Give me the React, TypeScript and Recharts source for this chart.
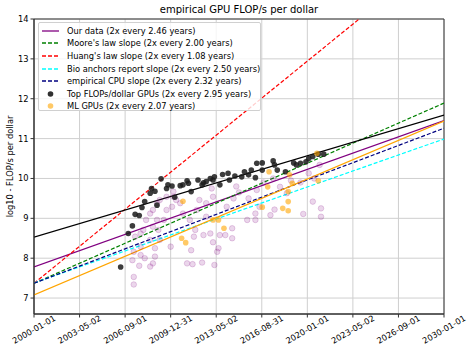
import React from 'react';
import {
  ComposedChart,
  Line,
  Scatter,
  XAxis,
  YAxis,
  CartesianGrid,
  ReferenceArea,
} from 'recharts';

// x ticks: 2000-01-01 .. 2030-01-01 split in 9 equal steps
const tickYears = [2000, 2003.333, 2006.667, 2010, 2013.333, 2016.667, 2020, 2023.333, 2026.667, 2030];
const tickLabels = [
  '2000-01-01', '2003-05-02', '2006-09-01', '2009-12-31', '2013-05-02',
  '2016-08-31', '2020-01-01', '2023-05-02', '2026-09-01', '2030-01-01',
];
const yTicks = [7, 8, 9, 10, 11, 12, 13, 14];

// all GPUs (faint purple)
const allGpuYears = [
  2007.3, 2007.3, 2007.2, 2007.7, 2007.3, 2007.8, 2007.4, 2008.0, 2008.2, 2008.5,
  2008.7, 2009.0, 2008.85, 2008.85, 2008.5, 2008.7, 2008.1, 2009.2, 2009.1, 2010.0,
  2010.1, 2010.2, 2010.4, 2010.7, 2010.2, 2011.2, 2011.6, 2011.5, 2011.7, 2012.3,
  2012.4, 2012.6, 2012.9, 2013.1, 2013.5, 2013.4, 2013.2, 2013.6, 2014.0, 2014.5,
  2014.5, 2012.6, 2013.1, 2014.1, 2014.6, 2015.7, 2016.2, 2016.2, 2016.3, 2017.3,
  2017.6, 2018.0, 2017.5, 2019.7, 2020.1, 2020.4, 2020.9, 2021.0, 2021.0, 2011.8,
  2011.4, 2010.9, 2011.9, 2012.1, 2015.6, 2016.5, 2018.5, 2007.8, 2008.5, 2007.8,
  2008.7, 2009.5, 2009.7, 2009.0, 2009.2, 2009.7, 2013.0, 2014.8, 2015.0, 2016.8,
  2019.5, 2020.5, 2018.8,
];
const allGpuValues = [
  7.53, 7.34, 7.95, 7.81, 8.16, 8.08, 8.54, 8.71, 8.96, 9.12,
  9.21, 8.96, 8.25, 8.04, 7.79, 7.87, 8.0, 8.46, 8.71, 8.29,
  9.29, 9.54, 9.46, 9.38, 9.67, 7.87, 7.85, 8.2, 8.54, 7.89,
  8.58, 9.04, 8.62, 8.4, 8.25, 8.16, 7.83, 8.58, 8.58, 8.5,
  8.75, 9.38, 9.54, 9.29, 9.5, 9.5, 9.12, 8.96, 9.71, 9.08,
  9.22, 9.79, 10.0, 9.11, 10.13, 9.42, 10.34, 9.25, 9.04, 8.71,
  8.96, 9.12, 9.21, 9.46, 8.96, 9.29, 9.63, 8.62, 8.46, 8.29,
  8.79, 8.96, 9.21, 9.38, 9.46, 9.54, 9.75, 9.8, 9.65, 9.9,
  9.9, 10.0, 9.95,
];

// top FLOPs/dollar GPUs (black)
const topYears = [
  2006.34, 2006.9, 2007.2, 2007.4, 2007.7, 2007.9, 2008.1, 2008.5, 2008.6, 2008.85,
  2009.0, 2009.3, 2009.7, 2009.8, 2010.1, 2010.3, 2010.7, 2010.9, 2011.2, 2011.3,
  2011.5, 2012.0, 2012.3, 2012.4, 2012.6, 2012.9, 2013.1, 2013.2, 2013.6, 2013.8,
  2014.2, 2014.3, 2014.7, 2015.2, 2015.4, 2015.7, 2015.9, 2016.2, 2016.3, 2016.7,
  2016.7, 2017.5, 2017.6, 2017.8, 2018.4, 2019.0, 2019.2, 2019.5, 2019.9, 2020.1,
  2020.4, 2020.8, 2021.2,
];
const topValues = [
  7.78, 8.62, 8.81, 9.1, 9.07, 9.27, 9.42, 9.63, 9.75, 9.68,
  9.33, 9.99, 9.75, 9.84, 9.81, 9.53, 9.82, 9.84, 9.94, 9.88,
  9.67, 9.96, 9.84, 9.89, 9.92, 10.0, 9.96, 10.04, 9.84, 10.1,
  10.13, 9.96, 10.06, 10.04, 10.17, 10.09, 10.21, 10.02, 10.38, 10.39,
  10.21, 10.44, 10.34, 10.21, 10.17, 10.39, 10.34, 10.38, 10.42, 10.5,
  10.55, 10.61, 10.61,
];

// ML GPUs (orange)
const mlYears = [
  2010.9, 2010.8, 2011.1, 2013.1, 2013.5, 2013.9, 2016.7, 2017.1, 2017.2, 2018.6,
  2018.2, 2018.6, 2018.9, 2018.7, 2020.8, 2020.7, 2018.6,
];
const mlValues = [
  9.43, 8.5, 8.39, 8.96, 8.96, 8.75, 9.28, 9.79, 10.17, 9.42,
  9.25, 9.19, 9.88, 10.09, 9.94, 10.63, 9.67,
];

// trend lines: value at 2000-01-01 and at 2030-01-01
const trendNames = [
  'Our data (2x every 2.46 years)',
  "Moore's law slope (2x every 2.00 years)",
  "Huang's law slope (2x every 1.08 years)",
  'Bio anchors report slope (2x every 2.50 years)',
  'empirical CPU slope (2x every 2.32 years)',
];
const trendStart = [7.78, 7.37, 7.37, 7.38, 7.37];
const trendEnd = [11.45, 11.89, 15.73, 10.99, 11.26];
const trendColors = ['#800080', '#008000', '#ff0000', '#00ffff', '#000080'];
const trendDashed = [false, true, true, true, true];

const topFitStart = 8.53;
const topFitEnd = 11.59;
const mlFitStart = 7.08;
const mlFitEnd = 11.44;

const scatterNames = [
  'Top FLOPs/dollar GPUs (2x every 2.95 years)',
  'ML GPUs (2x every 2.07 years)',
];

const FONT = '"DejaVu Sans", sans-serif';

const zip = (xs: number[], ys: number[]) => xs.map((x, i) => ({ x, y: ys[i] }));
const allGpuData = zip(allGpuYears, allGpuValues);
const topData = zip(topYears, topValues);
const mlData = zip(mlYears, mlValues);
const ends = (a: number, b: number) => [
  { x: 2000, y: a },
  { x: 2030, y: b },
];

const dot = (fill: string, opacity: number, edge = 0) => (props: any) => (
  <circle
    cx={props.cx}
    cy={props.cy}
    r={2.8}
    fill={fill}
    fillOpacity={opacity}
    stroke={edge ? fill : 'none'}
    strokeOpacity={edge}
    strokeWidth={0.8}
  />
);

const XTick = (props: any) => {
  const { x, y, index } = props;
  return (
    <g transform={`translate(${x},${y})`}>
      <text
        x={0}
        y={0}
        transform="translate(0,10) rotate(-30)"
        textAnchor="middle"
        dy="0.35em"
        fontSize={8.3}
        fontFamily={FONT}
        fill="#000"
      >
        {tickLabels[index]}
      </text>
    </g>
  );
};

const LegendBox = () => {
  const rows = [
    ...trendNames.map((n, i) => ({ name: n, kind: 'line', color: trendColors[i], dashed: trendDashed[i] })),
    { name: scatterNames[0], kind: 'dot', color: '#1a1a1a', opacity: 0.9 },
    { name: scatterNames[1], kind: 'dot', color: '#ffa500', opacity: 0.6 },
  ];
  return (
    <div
      style={{
        position: 'absolute',
        left: 38,
        top: 22,
        width: 223,
        height: 89,
        border: '1px solid #d0d0d0',
        borderRadius: 2,
        background: 'rgba(255,255,255,0.8)',
        fontFamily: FONT,
        fontSize: 8.3,
        paddingTop: 1.5,
        boxSizing: 'border-box',
      }}
    >
      {rows.map((r: any) => (
        <div key={r.name} style={{ height: 12.6, display: 'flex', alignItems: 'center', whiteSpace: 'nowrap' }}>
          <svg width={26} height={12} style={{ marginLeft: 2, marginRight: 0, flex: 'none' }}>
            {r.kind === 'line' ? (
              <line
                x1={1}
                x2={18}
                y1={6}
                y2={6}
                stroke={r.color}
                strokeWidth={1.3}
                strokeDasharray={r.dashed ? '4 2' : undefined}
              />
            ) : (
              <circle cx={9.5} cy={6} r={2.8} fill={r.color} fillOpacity={r.opacity} />
            )}
          </svg>
          <span>{r.name}</span>
        </div>
      ))}
    </div>
  );
};

export default function App() {
  return (
    <div style={{ position: 'absolute', left: 0, top: 0, width: 474, height: 354, background: '#fff' }}>
      <div
        style={{
          position: 'absolute',
          left: 34,
          top: 3,
          width: 410,
          textAlign: 'center',
          fontFamily: FONT,
          fontSize: 10,
          lineHeight: '14px',
        }}
      >
        empirical GPU FLOP/s per dollar
      </div>
      <ComposedChart width={474} height={354} margin={{ top: 19, right: 30, bottom: 0, left: 0 }}>
        <CartesianGrid stroke="#cfcfcf" strokeWidth={1} />
        <XAxis
          dataKey="x"
          type="number"
          domain={[2000, 2030]}
          ticks={tickYears}
          interval={0}
          allowDataOverflow
          height={40}
          tick={<XTick />}
          tickSize={3.5}
          tickMargin={2}
          stroke="#333"
        />
        <YAxis
          type="number"
          domain={[6.6, 14]}
          ticks={yTicks}
          allowDataOverflow
          width={34}
          tickSize={3.5}
          tickMargin={2}
          stroke="#333"
          tick={{ fontSize: 8.3, fill: '#000', fontFamily: FONT }}
          label={{
            value: 'log10 - FLOP/s per dollar',
            angle: -90,
            position: 'insideLeft',
            offset: 10,
            style: { textAnchor: 'middle', fontSize: 8.3, fontFamily: FONT, fill: '#000' },
          }}
        />
        <Scatter data={allGpuData} dataKey="y" shape={dot('#800080', 0.16, 0.22)} isAnimationActive={false} />
        {trendNames.map((n, i) => (
          <Line
            key={n}
            data={ends(trendStart[i], trendEnd[i])}
            dataKey="y"
            stroke={trendColors[i]}
            strokeWidth={1.2}
            strokeDasharray={trendDashed[i] ? '4 2' : undefined}
            dot={false}
            activeDot={false}
            isAnimationActive={false}
          />
        ))}
        <Line
          data={ends(topFitStart, topFitEnd)}
          dataKey="y"
          stroke="#000"
          strokeWidth={1.2}
          dot={false}
          activeDot={false}
          isAnimationActive={false}
        />
        <Line
          data={ends(mlFitStart, mlFitEnd)}
          dataKey="y"
          stroke="#ffa500"
          strokeWidth={1.2}
          dot={false}
          activeDot={false}
          isAnimationActive={false}
        />
        <Scatter data={topData} dataKey="y" shape={dot('#1a1a1a', 0.85)} isAnimationActive={false} />
        <Scatter data={mlData} dataKey="y" shape={dot('#ffa500', 0.6)} isAnimationActive={false} />
        <ReferenceArea x1={2000} x2={2030} y1={6.6} y2={14} fill="none" fillOpacity={0} stroke="#333" strokeWidth={1} />
      </ComposedChart>
      <LegendBox />
    </div>
  );
}
